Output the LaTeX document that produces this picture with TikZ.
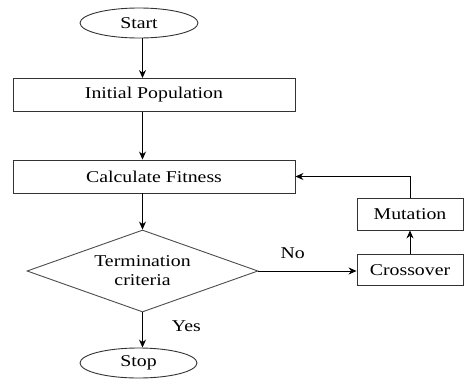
\documentclass[tikz,border=0pt]{standalone}
\usepackage{fontspec}
\setmainfont[FakeStretch=1.2]{Liberation Serif}
\usepackage{tikz}
\usetikzlibrary{shapes.geometric, positioning, arrows.meta}

\begin{document}
\begin{tikzpicture}[x=1pt,y=-1pt,line width=0.9pt,
    every node/.style={font=\fontsize{16.5}{19}\selectfont,inner sep=0pt},
    terminal/.style={draw=black!80,ellipse,minimum width=118pt,minimum height=30pt},
    process/.style={draw=black!80,rectangle,minimum height=33pt},
    decision/.style={draw=black!70,diamond,aspect=2.8,minimum width=231pt,minimum height=82pt,align=center},
    flow/.style={-{Stealth[length=8pt,width=7pt]}}]
\useasboundingbox (0,0) rectangle (465,380);
\node[terminal] (start) at (139,23) {Start};
\node[process,minimum width=282pt] (init) at (154,95) {Initial Population};
\node[process,minimum width=282pt] (fit) at (154,176.5) {Calculate Fitness};
\node[decision] (term) at (142.5,271) {Termination\\criteria};
\node[terminal,minimum width=117pt] (stop) at (138.5,363) {Stop};
\node[process,minimum width=106pt,minimum height=31pt] (cross) at (410,270) {Crossover};
\node[process,minimum width=106pt,minimum height=32pt] (mut) at (410,214) {Mutation};
\path[flow]
(start.south -| term.north) edge (init.north -| term.north)
(init.south -| term.north) edge (fit.north -| term.north)
(fit.south -| term.north) edge (term.north)
(term.south) edge node [right=29pt,pos=0.39] {Yes} (stop.north -| term.south)
(term.east) edge node [above=12pt,pos=0.35] {No} (cross.west |- term.east)
(cross.north) edge (mut.south);
\draw[flow] (mut.north) |- (fit.east);
\end{tikzpicture}
\end{document}
